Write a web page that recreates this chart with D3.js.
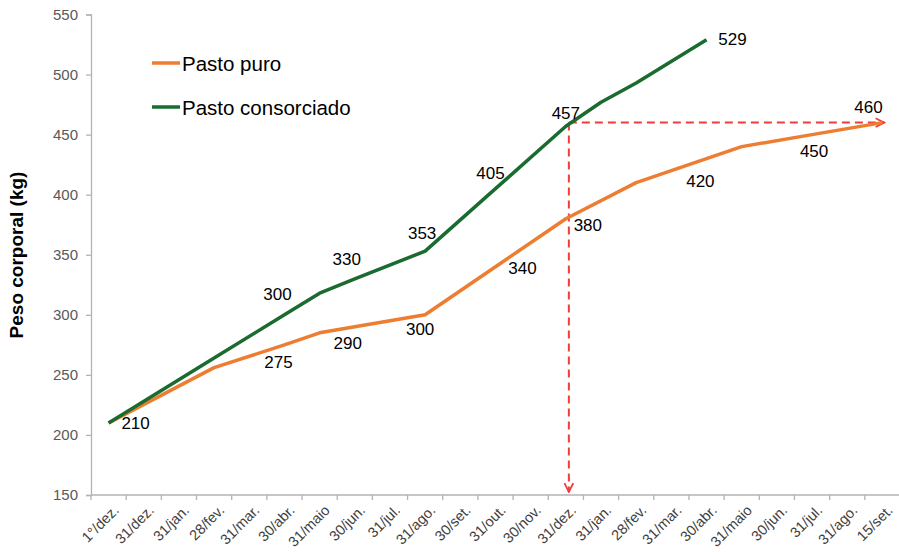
<!DOCTYPE html>
<html>
<head>
<meta charset="utf-8">
<script src="https://cdn.jsdelivr.net/npm/d3@7"></script>
<style>
  body { margin: 0; background: #fff; }
  svg { display: block; font-family: "Liberation Sans", Arial, sans-serif; }
</style>
</head>
<body>
<div id="chart"></div>
<script>
const categories = ["1°/dez.", "31/dez.", "31/jan.", "28/fev.", "31/mar.", "30/abr.", "31/maio", "30/jun.", "31/jul.", "31/ago.", "30/set.", "31/out.", "30/nov.", "31/dez.", "31/jan.", "28/fev.", "31/mar.", "30/abr.", "31/maio", "30/jun.", "31/jul.", "31/ago.", "15/set."];
const yTicks = [150, 200, 250, 300, 350, 400, 450, 500, 550];

// weights (null = no vertex at that date)
const pastoPuro = [210, null, null, 256, null, 275, 285, 290, null, 300, null, 340, null, 380, null, 410, 420, null, 440, null, 450, null, 460];
const pastoConsorciado = [210, null, null, 264, null, 300, 318, 330, null, 353, null, 405, null, 457, 477, 493, null, 529];

// which points carry a value label
const puroLabels = [0, 5, 7, 9, 11, 13, 16, 20, 22];
const consLabels = [5, 7, 9, 11, 13, 17];

const width = 899;
const height = 552;
const margin = { top: 14.5, right: 0, bottom: 57, left: 91 };

const svg = d3.select("#chart")
    .append("svg")
    .attr("width", width)
    .attr("height", height);

const x = d3.scaleBand()
    .domain(d3.range(categories.length))
    .range([margin.left, width + 1]);

const y = d3.scaleLinear()
    .domain([150, 550])
    .range([height - margin.bottom, margin.top]);

const cx = i => x(i) + x.bandwidth() / 2;

// y axis
const yAxis = svg.append("g")
    .attr("transform", `translate(${margin.left}, 0)`)
    .call(d3.axisLeft(y).tickValues(yTicks).tickSize(5).tickPadding(8));
yAxis.selectAll("line, path").attr("stroke", "#b3b3b3").attr("stroke-width", 1.3);
yAxis.selectAll("text")
    .attr("fill", "#595959")
    .style("font-size", "15px")
    .style("font-family", "Liberation Sans, Arial, sans-serif");

// x axis (ticks between categories)
const xg = svg.append("g");
xg.append("line")
    .attr("x1", margin.left).attr("x2", width)
    .attr("y1", y(150)).attr("y2", y(150))
    .attr("stroke", "#b3b3b3").attr("stroke-width", 1.3);
xg.selectAll(".xtick")
    .data(d3.range(categories.length + 1))
    .enter().append("line")
    .attr("class", "xtick")
    .attr("x1", i => margin.left + i * x.step())
    .attr("x2", i => margin.left + i * x.step())
    .attr("y1", y(150)).attr("y2", y(150) + 5)
    .attr("stroke", "#b3b3b3").attr("stroke-width", 1.3);
xg.selectAll(".xlabel")
    .data(categories)
    .enter().append("text")
    .attr("class", "xlabel")
    .attr("transform", (d, i) => `translate(${cx(i) + 4}, ${y(150) + 9}) rotate(-45)`)
    .attr("text-anchor", "end")
    .attr("dy", "0.7em")
    .attr("fill", "#404040")
    .style("font-size", "14.5px")
    .text(d => d);

// y title
svg.append("text")
    .attr("transform", `translate(23, 255) rotate(-90)`)
    .attr("text-anchor", "middle")
    .style("font-size", "19px")
    .style("font-weight", "bold")
    .text("Peso corporal (kg)");

// red dashed guide lines
const red = "#f23b3b";
svg.append("defs").append("marker")
    .attr("id", "arrow")
    .attr("viewBox", "0 0 10 10")
    .attr("refX", 9).attr("refY", 5)
    .attr("markerWidth", 11).attr("markerHeight", 11)
    .attr("markerUnits", "userSpaceOnUse")
    .attr("orient", "auto")
    .append("path")
    .attr("d", "M1,1 L9,5 L1,9")
    .attr("fill", "none")
    .attr("stroke", red)
    .attr("stroke-width", 1.6);

const gx = cx(13) + 3;
svg.append("line")
    .attr("x1", gx).attr("x2", gx)
    .attr("y1", y(460)).attr("y2", y(150) - 3)
    .attr("stroke", red).attr("stroke-width", 2)
    .attr("stroke-dasharray", "8,5")
    .attr("marker-end", "url(#arrow)");
svg.append("line")
    .attr("x1", gx).attr("x2", cx(22) + 2)
    .attr("y1", y(460)).attr("y2", y(460))
    .attr("stroke", red).attr("stroke-width", 2)
    .attr("stroke-dasharray", "8,5")
    .attr("marker-end", "url(#arrow)");

// lines
const line = d3.line()
    .x(d => cx(d.i))
    .y(d => y(d.v));

const series = [
    { name: "Pasto puro", values: pastoPuro, color: "#ed7d31" },
    { name: "Pasto consorciado", values: pastoConsorciado, color: "#1a6b30" }
];

series.forEach(s => {
    const pts = s.values.map((v, i) => ({ i, v })).filter(d => d.v !== null);
    svg.append("path")
        .datum(pts)
        .attr("fill", "none")
        .attr("stroke", s.color)
        .attr("stroke-width", 3.5)
        .attr("stroke-linejoin", "round")
        .attr("d", line);
});

// value labels
const puroOffset = { 0: [27, 1], 5: [-6, 18], 7: [-7, 17], 9: [-5, 15], 11: [27, 2], 13: [22, 7], 16: [29, 11], 20: [2, 17], 22: [-14, -15] };
const consOffset = { 5: [-7, -20], 7: [-8, -19], 9: [-3, -18], 11: [-5, -15], 13: [0, -13], 17: [26, 0] };

function addLabels(idx, values, offs) {
    svg.selectAll(null)
        .data(idx)
        .enter().append("text")
        .attr("x", i => cx(i) + offs[i][0])
        .attr("y", i => y(values[i]) + offs[i][1])
        .attr("text-anchor", "middle")
        .attr("dominant-baseline", "central")
        .style("font-size", "17px")
        .attr("fill", "#000")
        .text(i => values[i]);
}
addLabels(puroLabels, pastoPuro, puroOffset);
addLabels(consLabels, pastoConsorciado, consOffset);

// legend
const legend = svg.append("g");
series.forEach((s, k) => {
    const ly = 63 + k * 44;
    legend.append("line")
        .attr("x1", 152).attr("x2", 180)
        .attr("y1", ly).attr("y2", ly)
        .attr("stroke", s.color).attr("stroke-width", 3.5);
    legend.append("text")
        .attr("x", 182).attr("y", ly)
        .attr("dominant-baseline", "central")
        .style("font-size", "20.5px")
        .text(s.name);
});
</script>
</body>
</html>
